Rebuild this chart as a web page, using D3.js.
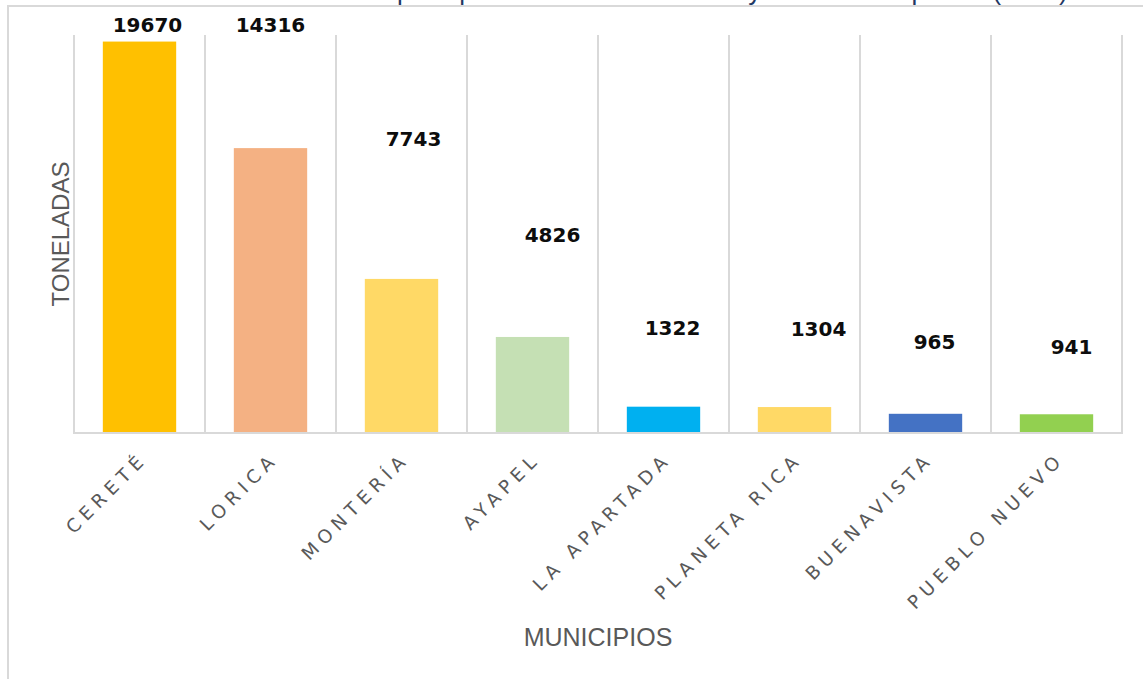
<!DOCTYPE html>
<html>
<head>
<meta charset="utf-8">
<script src="https://cdn.jsdelivr.net/npm/d3@7"></script>
<style>
  html, body { margin: 0; padding: 0; background: #ffffff; }
  svg { display: block; }
</style>
</head>
<body>
<svg id="chart" width="1143" height="679"></svg>
<script>
// Production by municipality (tonnes)
const municipios = ["CERETÉ", "LORICA", "MONTERÍA", "AYAPEL", "LA APARTADA", "PLANETA RICA", "BUENAVISTA", "PUEBLO NUEVO"];
const toneladas = [19670, 14316, 7743, 4826, 1322, 1304, 965, 941];
const colores = ["#FFC000", "#F4B183", "#FFD966", "#C5E0B4", "#00B0F0", "#FFD966", "#4472C4", "#92D050"];
const yDomain = [0, 20000];
const titulo = "Producción en las principales zonas de Córdoba y rendimiento por ha (2019)";

const svg = d3.select("#chart");
const W = 1143, H = 679;
const plot = { left: 74, right: 1122, top: 35, bottom: 433 };
const grid = "#d9d9d9";

// Title, sitting mostly above the top edge of the canvas
const title = svg.append("text")
  .attr("x", 0).attr("y", 0)
  .attr("font-family", "Liberation Sans, Arial, sans-serif")
  .attr("font-size", 26)
  .attr("fill", "#1F3864")
  .text(titulo);
// line the word "principales" up with its column
const pIdx = titulo.indexOf("principales");
const pX = title.node().getStartPositionOfChar(pIdx).x;
title.attr("x", 397 - pX);

// Chart frame
svg.append("rect")
  .attr("x", 8).attr("y", 6)
  .attr("width", W + 20).attr("height", H + 20)
  .attr("fill", "none")
  .attr("stroke", grid).attr("stroke-width", 2);

const x = d3.scaleBand().domain(municipios).range([plot.left, plot.right]).padding(0);
const y = d3.scaleLinear().domain(yDomain).range([plot.bottom, plot.top]);
const barW = x.bandwidth() * 0.56;

// Vertical category separators
const bounds = municipios.map(m => x(m)).concat([plot.right]);
svg.append("g").selectAll("line").data(bounds).join("line")
  .attr("x1", d => d).attr("x2", d => d)
  .attr("y1", plot.top).attr("y2", plot.bottom)
  .attr("stroke", grid).attr("stroke-width", 2);

// Bars
svg.append("g").selectAll("rect").data(municipios).join("rect")
  .attr("x", d => x(d) + (x.bandwidth() - barW) / 2)
  .attr("y", (d, i) => y(toneladas[i]))
  .attr("width", barW)
  .attr("height", (d, i) => y(0) - y(toneladas[i]))
  .attr("fill", (d, i) => colores[i]);

// Category axis
const xAxis = svg.append("g")
  .attr("transform", `translate(0,${plot.bottom})`)
  .call(d3.axisBottom(x).tickSize(0).tickFormat(""));
xAxis.select(".domain").attr("stroke", grid).attr("stroke-width", 2)
  .attr("d", `M${plot.left - 1},0H${plot.right + 1}`);

svg.append("g").selectAll("text").data(municipios).join("text")
  .attr("transform", d => `translate(${x(d) + x.bandwidth() / 2 + 9},${plot.bottom + 27}) rotate(-45)`)
  .attr("text-anchor", "end")
  .attr("font-family", "DejaVu Sans, Verdana, sans-serif")
  .attr("font-size", 18.5)
  .attr("letter-spacing", 5.6)
  .attr("fill", "#595959")
  .text(d => d);

// Value labels, each nudged off its bar top (dx, dy in px)
const labelNudge = [[8, -10], [0, -116], [12, -133], [20, -95], [9, -72], [24, -71], [9, -65], [15, -60]];
svg.append("g").selectAll("text").data(municipios).join("text")
  .attr("x", (d, i) => x(d) + x.bandwidth() / 2 + labelNudge[i][0])
  .attr("y", (d, i) => y(toneladas[i]) + labelNudge[i][1])
  .attr("text-anchor", "middle")
  .attr("font-family", "DejaVu Sans, Verdana, sans-serif")
  .attr("font-weight", "bold")
  .attr("font-size", 20)
  .attr("fill", "#0d0d0d")
  .text((d, i) => toneladas[i]);

// Axis titles
svg.append("text")
  .attr("transform", `translate(69,${(plot.top + plot.bottom) / 2}) rotate(-90)`)
  .attr("text-anchor", "middle")
  .attr("font-family", "Liberation Sans, Arial, sans-serif")
  .attr("font-size", 24)
  .attr("fill", "#595959")
  .text("TONELADAS");

svg.append("text")
  .attr("x", (plot.left + plot.right) / 2).attr("y", 646)
  .attr("text-anchor", "middle")
  .attr("font-family", "Liberation Sans, Arial, sans-serif")
  .attr("font-size", 25)
  .attr("fill", "#595959")
  .text("MUNICIPIOS");
</script>
</body>
</html>
